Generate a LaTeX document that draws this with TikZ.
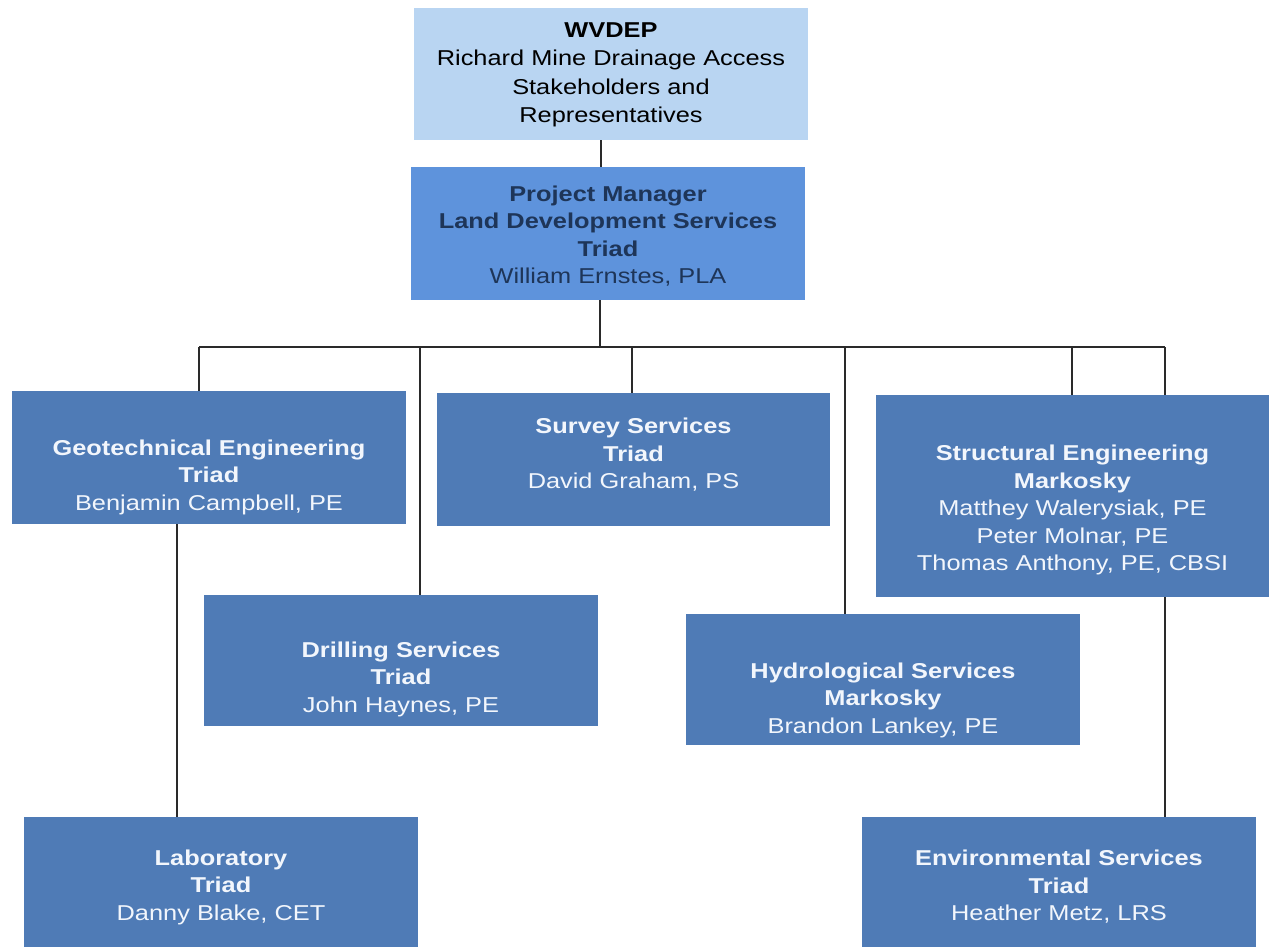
\documentclass[tikz,border=0pt]{standalone}
\usepackage{fontspec}
\setmainfont{Liberation Sans}[FakeStretch=1.18]
\definecolor{lightbox}{HTML}{B9D5F2}
\definecolor{pmbox}{HTML}{5E93DC}
\definecolor{boxblue}{HTML}{4F7BB6}
\definecolor{boxtext}{HTML}{F2F6FC}
\definecolor{pmtext}{HTML}{1E3558}
\definecolor{linecol}{HTML}{2A2A2A}
\begin{document}
\begin{tikzpicture}[x=1pt,y=-1pt,
  box/.style={rectangle, fill=boxblue, minimum width=394pt, minimum height=132pt, inner sep=0pt},
  txt/.style={align=center, text=boxtext, font=\fontsize{21.5}{27.5}\selectfont, inner sep=0pt},
  conn/.style={draw=linecol, line width=1.4pt}]
\useasboundingbox (0,0) rectangle (1269,947);
\fill[white] (0,0) rectangle (1269,947);
% boxes
\node[box, fill=lightbox] (wv) at (611,74) {};
\node[box, fill=pmbox, minimum height=133pt] (pm) at (608,233.5) {};
\node[box, minimum height=133pt] (geo) at (209,457.5) {};
\node[box, minimum width=393pt, minimum height=133pt] (sur) at (633.5,459.5) {};
\node[box, minimum width=393pt, minimum height=202pt] (str) at (1072.5,496) {};
\node[box, minimum height=131pt] (dri) at (401,660.5) {};
\node[box, minimum height=131pt] (hyd) at (883,679.5) {};
\node[box, minimum height=130pt] (lab) at (221,882) {};
\node[box, minimum height=130pt] (env) at (1059,882) {};
% texts
\node[txt, text=black, font=\fontsize{21.5}{28.5}\selectfont] (wvT) at (611,75) {\textbf{WVDEP}\\Richard Mine Drainage Access\\Stakeholders and\\Representatives};
\node[txt, text=pmtext] (pmT) at (608,236) {\textbf{Project Manager}\\\textbf{Land Development Services}\\\textbf{Triad}\\William Ernstes, PLA};
\node[txt] (geoT) at (209,477) {\textbf{Geotechnical Engineering}\\\textbf{Triad}\\Benjamin Campbell, PE};
\node[txt] (surT) at (633.5,455) {\textbf{Survey Services}\\\textbf{Triad}\\David Graham, PS};
\node[txt] (strT) at (1072.5,510) {\textbf{Structural Engineering}\\\textbf{Markosky}\\Matthey Walerysiak, PE\\Peter Molnar, PE\\Thomas Anthony, PE, CBSI};
\node[txt] (driT) at (401,679) {\textbf{Drilling Services}\\\textbf{Triad}\\John Haynes, PE};
\node[txt] (hydT) at (883,700) {\textbf{Hydrological Services}\\\textbf{Markosky}\\Brandon Lankey, PE};
\node[txt] (labT) at (221,887) {\textbf{Laboratory}\\\textbf{Triad}\\Danny Blake, CET};
\node[txt] (envT) at (1059,887) {\textbf{Environmental Services}\\\textbf{Triad}\\Heather Metz, LRS};
% bus coordinates
\coordinate (bp) at (600,347);
\coordinate (b1) at (199,347);
\coordinate (b2) at (420,347);
\coordinate (b3) at (632,347);
\coordinate (b4) at (845,347);
\coordinate (b5) at (1072,347);
\coordinate (b6) at (1165,347);
\coordinate (g1) at (177,0);
\coordinate (s1) at (1165,0);
% connectors
\draw[conn] ([xshift=-10pt]wv.south) -- ([xshift=-7pt]pm.north);
\draw[conn] (bp |- pm.south) -- (bp);
\draw[conn] (b1) -- (b6);
\draw[conn] (b1) -- (b1 |- geo.north);
\draw[conn] (b2) -- (b2 |- dri.north);
\draw[conn] (b3) -- (b3 |- sur.north);
\draw[conn] (b4) -- (b4 |- hyd.north);
\draw[conn] (b5) -- (b5 |- str.north);
\draw[conn] (b6) -- (b6 |- str.north);
\draw[conn] (g1 |- geo.south) -- (g1 |- lab.north);
\draw[conn] (s1 |- str.south) -- (s1 |- env.north);
\end{tikzpicture}
\end{document}
